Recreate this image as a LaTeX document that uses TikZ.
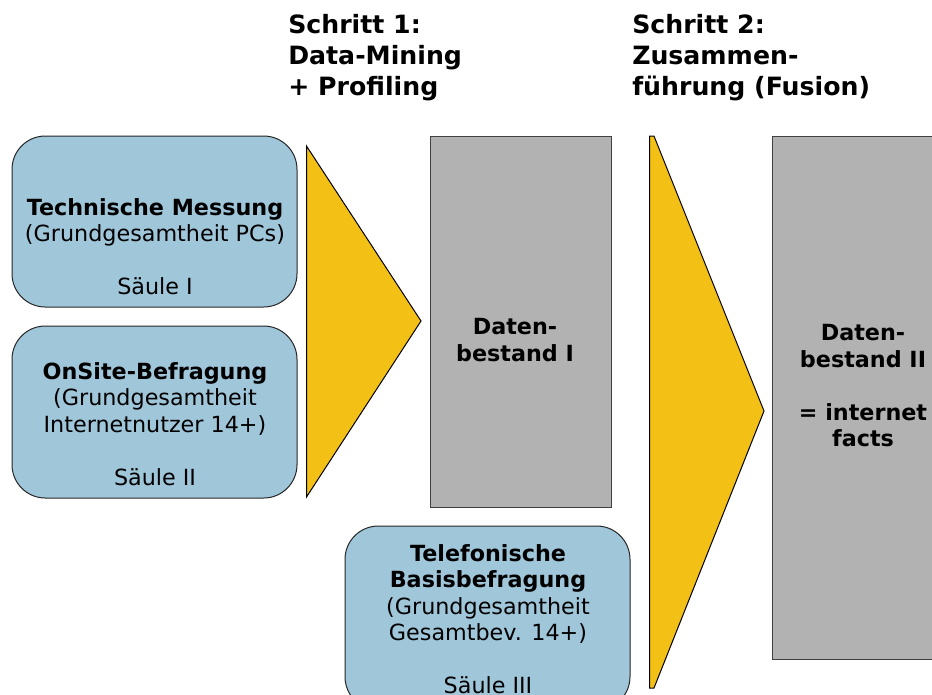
\documentclass[tikz,border=0pt]{standalone}
\usepackage{fontspec}
\setmainfont{DejaVu Sans}
\definecolor{saeule}{RGB}{160,198,218}
\definecolor{pfeil}{RGB}{243,193,22}
\definecolor{bestand}{RGB}{178,178,178}
\tikzset{
  saeulebox/.style={draw=black!85,fill=saeule,rounded corners=25pt,line width=0.75pt,minimum width=213.75pt,inner sep=0pt},
  bestandbox/.style={draw=black!75,fill=bestand,line width=0.75pt,inner sep=0pt},
  pfeilform/.style={draw=black,fill=pfeil,line width=0.75pt,line join=miter},
  boxtext/.style={align=center,font=\fontsize{16.7}{19.9}\selectfont,inner sep=0pt,anchor=north},
  fetttext/.style={boxtext,font=\fontsize{16.7}{19.9}\selectfont\bfseries},
  titel/.style={align=left,font=\fontsize{18.9}{23.25}\selectfont\bfseries,inner sep=0pt,anchor=north west}
}
\begin{document}
\begin{tikzpicture}[x=0.75pt,y=0.75pt,yscale=-1,xscale=1]
\useasboundingbox (0,0) rectangle (932,694);
\clip (0,0) rectangle (932,694);
% Boxes
\node [saeulebox,minimum height=128.25pt] (messung) at (154.5,221.5) {};
\node [saeulebox,minimum height=129pt] (onsite) at (154.5,412) {};
\node [saeulebox,minimum height=138pt] (telefon) at (487.5,618) {};
\node [bestandbox,minimum width=135.75pt,minimum height=278.25pt] (bestandeins) at (520.5,321.5) {};
\node [bestandbox,minimum width=142.5pt,minimum height=392.25pt] (bestandzwei) at (867,397.5) {};
% Arrows
\draw [pfeilform] (306.5,146) -- (421,321) -- (306.5,497) -- cycle ;
\draw [pfeilform] (649.5,136) -- (654,136) -- (764,411) -- (654,688) -- (649.5,688) -- cycle ;
% Text Node
\node [titel] (schritteins) at (288,14) {Schritt 1:\\Data-Mining\\+ Profiling};
\node [titel] (schrittzwei) at (632,14) {Schritt 2:\\Zusammen-\\führung (Fusion)};
% Text Node
\node [boxtext] (messungtext) at (155,198) {\textbf{Technische Messung}\\(Grundgesamtheit PCs)\\ \\Säule I};
\node [boxtext] (onsitetext) at (155,362) {\textbf{OnSite-Befragung}\\(Grundgesamtheit\\Internetnutzer 14+)\\ \\Säule II};
\node [boxtext] (telefontext) at (488,544) {\textbf{Telefonische}\\\textbf{Basisbefragung}\\(Grundgesamtheit\\Gesamtbev. 14+)\\ \\Säule III};
\node [fetttext] (bestandeinstext) at (515,318) {Daten-\\bestand I};
\node [fetttext] (bestandzweitext) at (863,324) {Daten-\\bestand II\\ \\= internet\\facts};
\end{tikzpicture}
\end{document}
